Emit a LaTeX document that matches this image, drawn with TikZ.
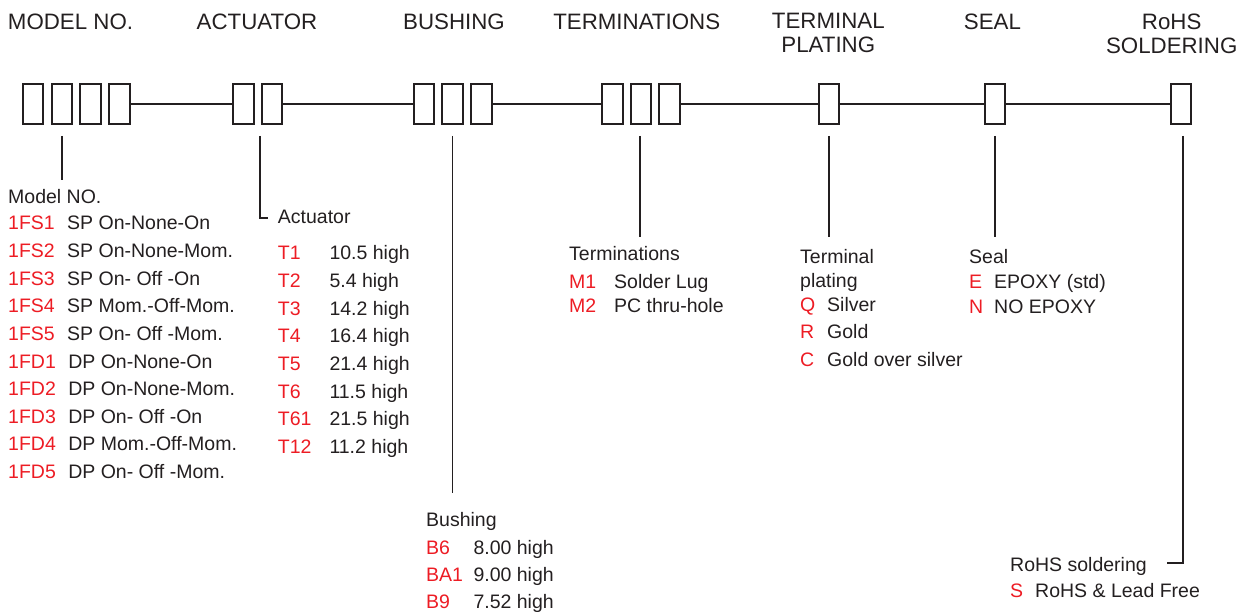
\documentclass[tikz,border=0pt]{standalone}
\usepackage{fontspec}
\setmainfont{Liberation Sans}
\usepackage{tikz}
\usetikzlibrary{positioning}
\definecolor{codered}{RGB}{237,28,36}
\definecolor{ink}{RGB}{35,31,32}

\begin{document}
\begin{tikzpicture}[
  x=1pt, y=-1pt,
  slot/.style={
    draw=ink,
    line width=2pt,
    minimum width=20.5pt,
    minimum height=40.6pt,
    inner sep=0pt,
    outer sep=0pt
    },
  wire/.style={draw=ink, line width=1.9pt},
  tick/.style={draw=ink, line width=1.5pt},
  heading/.style={font=\fontsize{22.3}{24}\selectfont, text=ink, align=center, inner sep=0pt, anchor=north},
  caption/.style={font=\fontsize{19.5}{23.5}\selectfont, text=ink, align=left, inner sep=0pt, anchor=base west},
  code/.style={caption, text=codered},
  entry/.style={caption}
]
\useasboundingbox (0,0) rectangle (1248,612);

% headings
\node [heading] (hmodel) at (70.5,13.3) {MODEL NO.};
\node [heading] (hact)   at (257,13.3)  {ACTUATOR};
\node [heading] (hbush)  at (454,13.3)  {BUSHING};
\node [heading] (hterm)  at (636.7,13.3) {TERMINATIONS};
\node [heading] (hplate) at (828.3,13.3) {TERMINAL\\PLATING};
\node [heading] (hseal)  at (992.5,13.3) {SEAL};
\node [heading] (hrohs)  at (1171.7,13.3) {RoHS\\SOLDERING};

% code boxes
\node [slot] (m1) at (33.2,104) {};
\node [slot, right=8.2pt of m1] (m2) {};
\node [slot, right=8.2pt of m2] (m3) {};
\node [slot, right=8.2pt of m3] (m4) {};
\node [slot] (a1) at (243.3,104) {};
\node [slot, right=8.2pt of a1] (a2) {};
\node [slot] (b1) at (424,104) {};
\node [slot, right=8.2pt of b1] (b2) {};
\node [slot, right=8.2pt of b2] (b3) {};
\node [slot] (t1) at (612.3,104) {};
\node [slot, right=8.2pt of t1] (t2) {};
\node [slot, right=8.2pt of t2] (t3) {};
\node [slot] (p1) at (828.9,104) {};
\node [slot] (s1) at (995,104) {};
\node [slot] (r1) at (1181,104) {};

\draw [wire] (m4.east) -- (a1.west);
\draw [wire] (a2.east) -- (b1.west);
\draw [wire] (b3.east) -- (t1.west);
\draw [wire] (t3.east) -- (p1.west);
\draw [wire] (p1.east) -- (s1.west);
\draw [wire] (s1.east) -- (r1.west);

% leader lines
\coordinate (mtop) at ([yshift=-11.7pt]m2.south);
\coordinate (mfoot) at (mtop |- 0,180);
\draw [tick] (mtop) -- (mfoot);

\coordinate (atop) at ([xshift=-2pt,yshift=-11.7pt]a2.south west);
\coordinate (afoot) at (atop |- 0,218);
\coordinate (atip) at (268,218);
\draw [tick] (atop) -- (afoot) -- (atip);

\coordinate (btop) at ([yshift=-11.7pt]b2.south);
\coordinate (bfoot) at (btop |- 0,493);
\draw [tick] (btop) -- (bfoot);

\coordinate (ttop) at ([xshift=-1pt,yshift=-11.7pt]t2.south);
\coordinate (tfoot) at (ttop |- 0,237);
\draw [tick] (ttop) -- (tfoot);

\coordinate (ptop) at ([yshift=-11.7pt]p1.south);
\coordinate (pfoot) at (ptop |- 0,237);
\draw [tick] (ptop) -- (pfoot);

\coordinate (stop) at ([yshift=-11.7pt]s1.south);
\coordinate (sfoot) at (stop |- 0,237);
\draw [tick] (stop) -- (sfoot);

\coordinate (rtop) at ([xshift=2pt,yshift=-11.7pt]r1.south);
\coordinate (rfoot) at (rtop |- 0,563);
\coordinate (rtip) at (1166.5,563);
\draw [tick] (rtop) -- (rfoot) -- (rtip);

% model no.
\node [caption] (mcap) at (8,203.3) {Model NO.};
\foreach \code/\desc [count=\i] in {
    1FS1/SP On-None-On, 1FS2/SP On-None-Mom., 1FS3/SP On- Off -On,
    1FS4/SP Mom.-Off-Mom., 1FS5/SP On- Off -Mom., 1FD1/DP On-None-On,
    1FD2/DP On-None-Mom., 1FD3/DP On- Off -On, 1FD4/DP Mom.-Off-Mom.,
    1FD5/DP On- Off -Mom.} {
  \node [code] (mc\i) at (8,{230+27.6*(\i-1)}) {\code};
  \node [entry] (md\i) at ([xshift=12pt]mc\i.base east) {\desc};
}

% actuator
\node [caption] (acap) at (277.7,224) {Actuator};
\foreach \code/\desc [count=\i] in {
    T1/10.5 high, T2/5.4 high, T3/14.2 high, T4/16.4 high,
    T5/21.4 high, T6/11.5 high, T61/21.5 high, T12/11.2 high} {
  \node [code] (ac\i) at (277.7,{260+27.6*(\i-1)}) {\code};
  \node [entry] (ad\i) at (329.3,{260+27.6*(\i-1)}) {\desc};
}

% bushing
\node [caption] (bcap) at (426,526) {Bushing};
\foreach \code/\desc [count=\i] in {B6/8.00 high, BA1/9.00 high, B9/7.52 high} {
  \node [code] (bc\i) at (426,{554+27.2*(\i-1)}) {\code};
  \node [entry] (bd\i) at (473.3,{554+27.2*(\i-1)}) {\desc};
}

% terminations
\node [caption] (tcap) at (569,261) {Terminations};
\foreach \code/\desc [count=\i] in {M1/Solder Lug, M2/PC thru-hole} {
  \node [code] (tc\i) at (569,{288.5+24.5*(\i-1)}) {\code};
  \node [entry] (td\i) at (614,{288.5+24.5*(\i-1)}) {\desc};
}

% terminal plating
\node [caption, anchor=north west] (pcap) at (800,249.5) {Terminal\\plating};
\foreach \code/\desc [count=\i] in {Q/Silver, R/Gold, C/Gold over silver} {
  \node [code] (pc\i) at (800,{311.5+27.5*(\i-1)}) {\code};
  \node [entry] (pd\i) at (827,{311.5+27.5*(\i-1)}) {\desc};
}

% seal
\node [caption] (scap) at (969,263.5) {Seal};
\foreach \code/\desc [count=\i] in {E/EPOXY (std), N/NO EPOXY} {
  \node [code] (sc\i) at (969,{288.5+24.8*(\i-1)}) {\code};
  \node [entry] (sd\i) at (994,{288.5+24.8*(\i-1)}) {\desc};
}

% rohs
\node [caption] (rcap) at (1010,571.7) {RoHS soldering};
\node [code] (rc1) at (1010,597) {S};
\node [entry] (rd1) at (1035,597) {RoHS \& Lead Free};

\end{tikzpicture}
\end{document}
